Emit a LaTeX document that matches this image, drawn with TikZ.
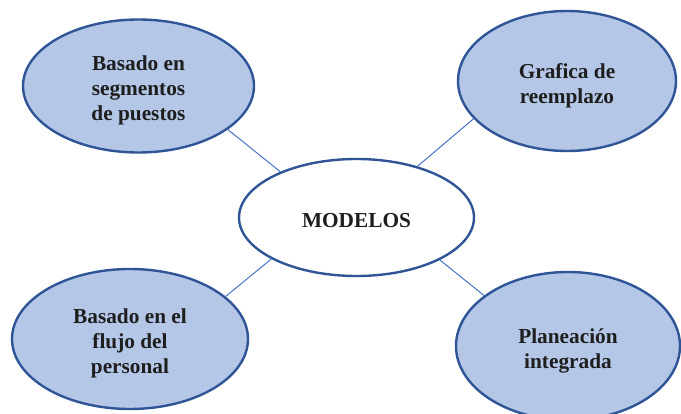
\documentclass[tikz,border=0pt]{standalone}
\usepackage{fontspec}
\setmainfont{Liberation Serif}
\usetikzlibrary{shapes.geometric}
\definecolor{fillb}{HTML}{B4C7E7}
\definecolor{edgeb}{HTML}{2F5597}
\definecolor{lineb}{HTML}{4472C4}
\definecolor{txt}{HTML}{1E1E1E}
\newcommand{\bubtxt}[1]{\raisebox{-5pt}[\height][\depth]{\begin{tabular}{@{}c@{}}#1\end{tabular}}}
\begin{document}
\begin{tikzpicture}[x=1pt,y=-1pt,
  bubble/.style={ellipse, draw=edgeb, line width=2.4pt, fill=fillb, inner sep=0pt,
    font=\fontsize{21.3}{25}\selectfont\bfseries, text=txt},
  hub/.style={bubble, fill=white},
  link/.style={draw=lineb, line width=1pt}]
\useasboundingbox (0,0) rectangle (681,414);
\node[bubble, minimum width=231pt, minimum height=133pt] (tl) at (138.5,86) {\bubtxt{Basado en\\segmentos\\de puestos}};
\node[bubble, minimum width=218pt, minimum height=140pt] (tr) at (567,81) {\bubtxt{Grafica de\\reemplazo}};
\node[hub, minimum width=235pt, minimum height=117pt] (c) at (356.5,217.5) {\bubtxt{MODELOS}};
\node[bubble, minimum width=236pt, minimum height=140pt] (bl) at (130,339) {\bubtxt{Basado en el\\flujo del\\personal}};
\node[bubble, minimum width=224pt, minimum height=148pt] (br) at (568,346) {\bubtxt{Planeación\\integrada}};
\draw[link] (tl.-26.7) -- (c.149.3);
\draw[link] (tr.202.4) -- (c.40);
\draw[link] (bl.24.8) -- (c.206.7);
\draw[link] (br.149.5) -- (c.-27);
\end{tikzpicture}
\end{document}
